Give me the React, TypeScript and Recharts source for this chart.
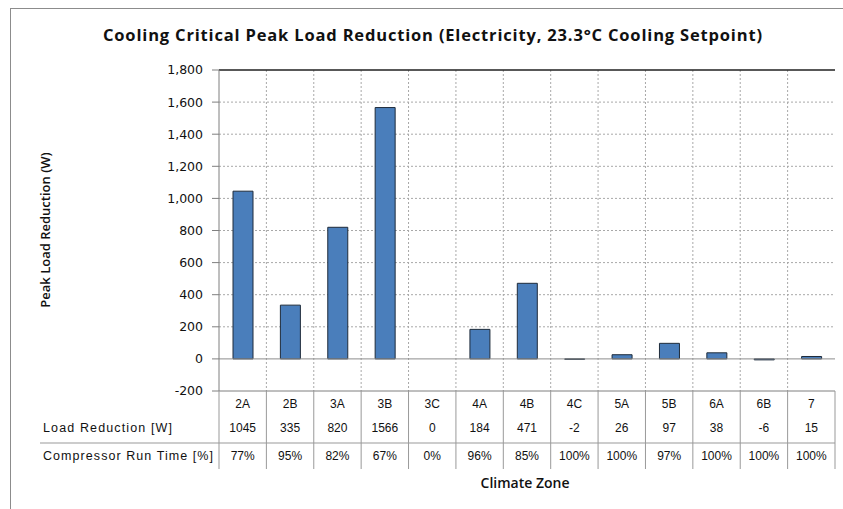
import React from "react";
import {
  BarChart,
  Bar,
  XAxis,
  YAxis,
  CartesianGrid,
  ReferenceLine,
} from "recharts";

const zones = ["2A", "2B", "3A", "3B", "3C", "4A", "4B", "4C", "5A", "5B", "6A", "6B", "7"];
const loadReduction = [1045, 335, 820, 1566, 0, 184, 471, -2, 26, 97, 38, -6, 15];
const runTime = [77, 95, 82, 67, 0, 96, 85, 100, 100, 97, 100, 100, 100];
const yTicks = [-200, 0, 200, 400, 600, 800, 1000, 1200, 1400, 1600, 1800];

const data = zones.map((zone, i) => ({ zone, load: loadReduction[i], run: runTime[i] }));

const W = 843;
const H = 509;
const PLOT_LEFT = 219;
const PLOT_RIGHT = 835;
const PLOT_TOP = 70;
const PLOT_BOTTOM = 391;
const BAND = (PLOT_RIGHT - PLOT_LEFT) / zones.length;

const TABLE_FONT = "'Liberation Sans', Arial, sans-serif";
const HEAD_FONT = "'Open Sans', 'Noto Sans', sans-serif";

function TableTick(props: any) {
  const { x, payload } = props;
  const i = zones.indexOf(payload.value);
  const left = x - BAND / 2;
  const right = x + BAND / 2;
  return (
    <g>
      {i === 0 && (
        <g>
          <text x={43} y={429} dominantBaseline="middle" fontSize={12.5} fontFamily={TABLE_FONT} fill="#111" textLength={129} lengthAdjust="spacing">
            Load Reduction [W]
          </text>
          <text x={43} y={457} dominantBaseline="middle" fontSize={12.5} fontFamily={TABLE_FONT} fill="#111" textLength={170} lengthAdjust="spacing">
            Compressor Run Time [%]
          </text>
          <line x1={40} x2={PLOT_RIGHT} y1={443} y2={443} stroke="#999" />
          <line x1={left} x2={left} y1={PLOT_BOTTOM} y2={469} stroke="#999" />
        </g>
      )}
      <line x1={right} x2={right} y1={PLOT_BOTTOM} y2={469} stroke="#999" />
      <text x={x} y={405} textAnchor="middle" dominantBaseline="middle" fontSize={12} fontFamily={TABLE_FONT} fill="#111">
        {payload.value}
      </text>
      <text x={x} y={429} textAnchor="middle" dominantBaseline="middle" fontSize={12} fontFamily={TABLE_FONT} fill="#111">
        {loadReduction[i]}
      </text>
      <text x={x} y={457} textAnchor="middle" dominantBaseline="middle" fontSize={12} fontFamily={TABLE_FONT} fill="#111">
        {runTime[i]}%
      </text>
    </g>
  );
}

export default function App() {
  return (
    <div style={{ position: "fixed", left: 0, top: 0, width: W, height: H, overflow: "hidden", background: "#fff" }}>
      <div
        style={{
          position: "absolute",
          left: 10,
          top: 8,
          width: W + 20,
          height: H + 20,
          borderTop: "1px solid #8c8c8c",
          borderLeft: "1px solid #8c8c8c",
        }}
      />
      <BarChart
        width={W}
        height={H}
        data={data}
        margin={{ top: PLOT_TOP, right: W - PLOT_RIGHT, bottom: 0, left: 0 }}
        barCategoryGap={0}
        style={{ position: "absolute", left: 0, top: 0 }}
      >
        <CartesianGrid
          stroke="#a8a8a8"
          strokeDasharray="2 2"
          verticalCoordinatesGenerator={({ offset }: any) =>
            zones.slice(1).map((_, i) => offset.left + ((i + 1) * offset.width) / zones.length)
          }
          horizontalValues={[200, 400, 600, 800, 1000, 1200, 1400, 1600]}
        />
        <XAxis
          dataKey="zone"
          interval={0}
          height={H - PLOT_BOTTOM}
          tickLine={false}
          axisLine={{ stroke: "#7f7f7f" }}
          tick={<TableTick />}
        />
        <YAxis
          width={PLOT_LEFT}
          domain={[-200, 1800]}
          ticks={yTicks}
          interval={0}
          tickSize={7}
          tickMargin={9}
          tickLine={{ stroke: "#7f7f7f" }}
          axisLine={{ stroke: "#7f7f7f" }}
          tickFormatter={(v: number) => v.toLocaleString("en-US")}
          tick={{ fontSize: 12.5, fontFamily: "'DejaVu Sans', Verdana, sans-serif", fill: "#111" }}
        />
        <YAxis
          yAxisId="right"
          orientation="right"
          width={0}
          domain={[-200, 1800]}
          tick={false}
          tickLine={false}
          axisLine={{ stroke: "#404040" }}
        />
        <ReferenceLine y={1800} stroke="#202020" strokeWidth={1.5} />
        <ReferenceLine y={0} stroke="#8c8c8c" />
        <Bar dataKey="load" fill="#4a7ebb" stroke="#1e2b3a" strokeWidth={1} barSize={20} isAnimationActive={false} />
      </BarChart>
      <svg width={W} height={H} style={{ position: "absolute", left: 0, top: 0, pointerEvents: "none" }}>
        <text
          x={103}
          y={37}
          dominantBaseline="middle"
          fontSize={16.5}
          fontWeight="bold"
          fontFamily={HEAD_FONT}
          fill="#111"
          textLength={659}
          lengthAdjust="spacing"
        >
          Cooling Critical Peak Load Reduction (Electricity, 23.3°C Cooling Setpoint)
        </text>
        <text
          x={47}
          y={230}
          textAnchor="middle"
          dominantBaseline="middle"
          fontSize={13}
          fontWeight={600}
          fontFamily={HEAD_FONT}
          fill="#111"
          transform="rotate(-90 47 230)"
        >
          Peak Load Reduction (W)
        </text>
        <text
          x={525}
          y={484}
          textAnchor="middle"
          dominantBaseline="middle"
          fontSize={14}
          fontWeight={600}
          fontFamily={HEAD_FONT}
          fill="#111"
        >
          Climate Zone
        </text>
      </svg>
    </div>
  );
}
